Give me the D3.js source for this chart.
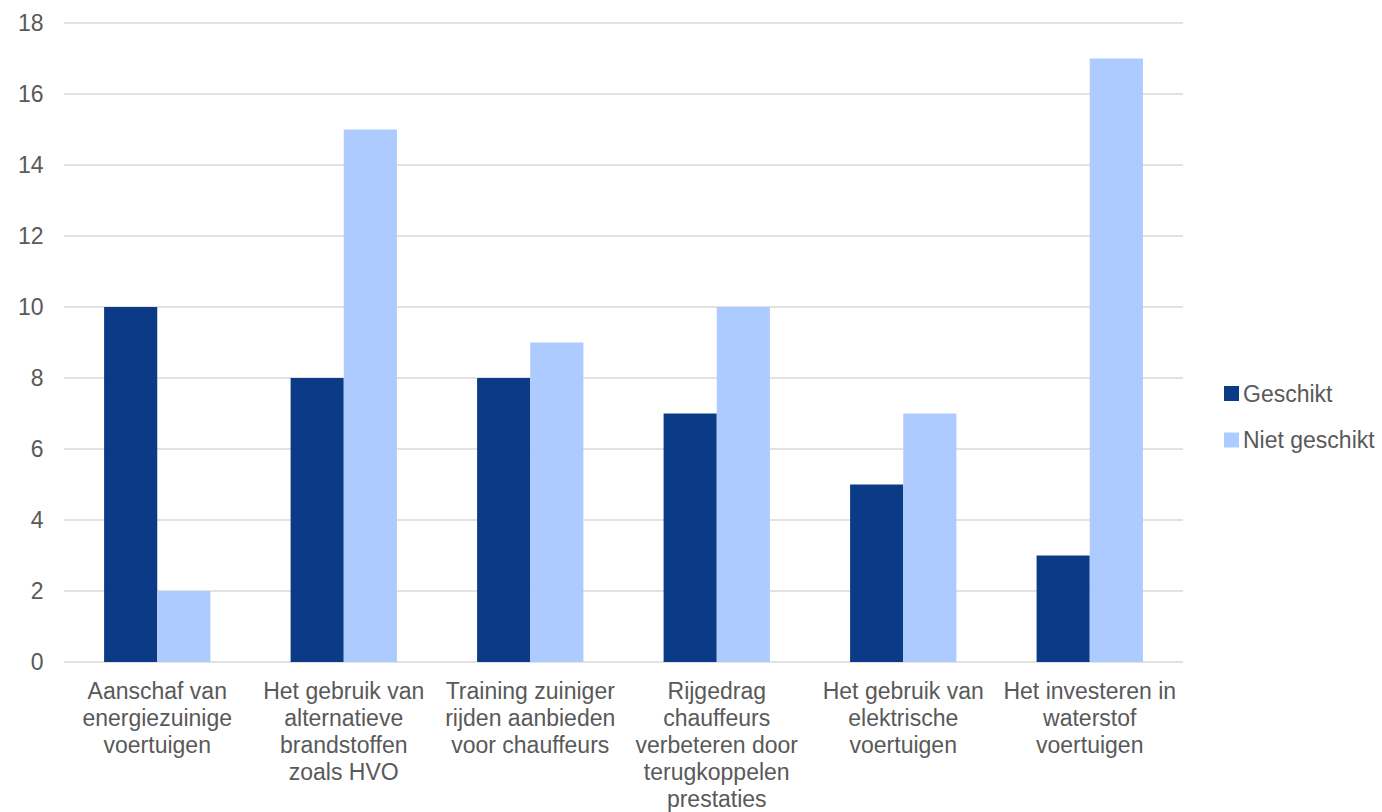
<!DOCTYPE html>
<html><head><meta charset="utf-8">
<script src="https://cdn.jsdelivr.net/npm/d3@7"></script>
<style>body{margin:0;background:#fff;}svg{display:block;font-family:"Liberation Sans",Arial,sans-serif;}</style>
</head><body><svg id="c" width="1382" height="812"></svg>
<script>
const categories = [
  ["Aanschaf van","energiezuinige","voertuigen"],
  ["Het gebruik van","alternatieve","brandstoffen","zoals HVO"],
  ["Training zuiniger","rijden aanbieden","voor chauffeurs"],
  ["Rijgedrag","chauffeurs","verbeteren door","terugkoppelen","prestaties"],
  ["Het gebruik van","elektrische","voertuigen"],
  ["Het investeren in","waterstof","voertuigen"]
];
const seriesNames = ["Geschikt","Niet geschikt"];
const geschikt = [10,8,8,7,5,3];
const nietGeschikt = [2,15,9,10,7,17];
const yTicks = [0,2,4,6,8,10,12,14,16,18];
const colors = ["#0B3A87","#ADCBFF"];

(function(){
const svg = d3.select("#c");
const mLeft = 64, mRight = 1183, mTop = 23, mBottom = 662;
const fs = 23;
const x = d3.scaleBand().domain(d3.range(categories.length)).range([mLeft,mRight]).paddingInner(0.43).paddingOuter(0.215);
const xs = d3.scaleBand().domain([0,1]).range([0,x.bandwidth()]);
const y = d3.scaleLinear().domain([0,18]).range([mBottom,mTop]);

svg.append("g").selectAll("line").data(yTicks).join("line")
  .attr("x1",mLeft).attr("x2",mRight).attr("y1",d=>y(d)).attr("y2",d=>y(d))
  .attr("stroke","#D9D9D9").attr("stroke-width",1.3);

svg.append("g").selectAll("text").data(yTicks).join("text")
  .attr("x",43.5).attr("y",d=>y(d)+8).attr("text-anchor","end")
  .attr("fill","#595959").attr("font-size",fs).text(d=>d);

const data = [geschikt,nietGeschikt];
data.forEach((vals,si)=>{
  svg.append("g").selectAll("rect").data(vals).join("rect")
    .attr("x",(d,i)=>x(i)+xs(si)).attr("width",xs.bandwidth())
    .attr("y",d=>y(d)).attr("height",d=>y(0)-y(d)).attr("fill",colors[si]);
});

const lab = svg.append("g");
categories.forEach((lines,i)=>{
  const cx = x(i)+x.bandwidth()/2;
  const t = lab.append("text").attr("text-anchor","middle").attr("fill","#595959").attr("font-size",fs);
  lines.forEach((l,j)=>t.append("tspan").attr("x",cx).attr("y",699+j*27).text(l));
});

const lg = svg.append("g");
seriesNames.forEach((n,i)=>{
  const yy = 386 + i*46.5;
  lg.append("rect").attr("x",1224).attr("y",yy).attr("width",15).attr("height",15).attr("fill",colors[i]);
  lg.append("text").attr("x",1243).attr("y",yy+15.5).attr("fill","#595959").attr("font-size",fs).text(n);
});
})();
</script></body></html>
